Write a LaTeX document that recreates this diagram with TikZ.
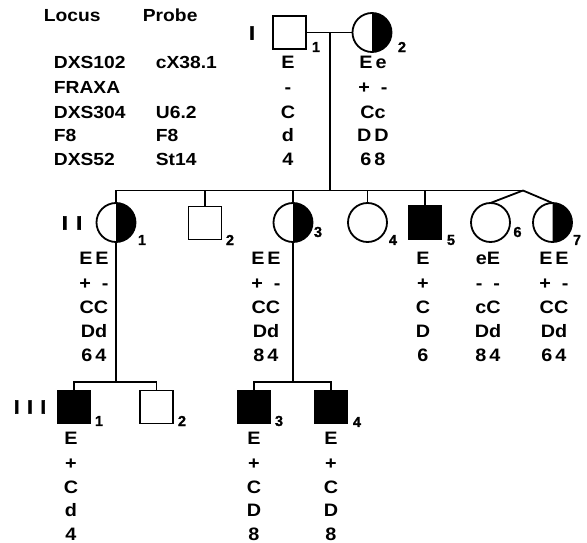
\documentclass[tikz,border=0pt]{standalone}
\usepackage{fontspec}
\setmainfont{Liberation Sans}[FakeStretch=1.1]
\newfontfamily\genfont{Liberation Sans Bold}[FakeBold=3]
\newfontfamily\numfont{Liberation Sans Bold}[FakeBold=1]
\begin{document}
\begin{tikzpicture}[x=1pt,y=-1pt,line width=1.8pt,
  male/.style={draw,rectangle,minimum size=33pt,inner sep=0pt,outer sep=0pt,fill=white},
  female/.style={draw,circle,minimum size=39pt,inner sep=0pt,outer sep=0pt,fill=white},
  aff/.style={fill=black},
  gt/.style={font=\fontsize{18}{18}\bfseries\selectfont,inner sep=0pt,anchor=base},
  hd/.style={font=\fontsize{17.5}{17.5}\bfseries\selectfont,inner sep=0pt,anchor=base west},
  num/.style={font=\fontsize{14.5}{14.5}\numfont,inner sep=0pt},
  gen/.style={font=\fontsize{19}{19}\genfont,inner sep=0pt}]
\useasboundingbox (0,0) rectangle (587,543);
% ---------- table ----------
\node[hd] (hl) at (43,22) {Locus};
\node[hd] (hp) at (142,22) {Probe};
\node[hd] (l1) at (53,69) {DXS102};
\node[hd] (l2) at (53,94) {FRAXA};
\node[hd] (l3) at (53,119) {DXS304};
\node[hd] (l4) at (53,142) {F8};
\node[hd] (l5) at (53,165) {DXS52};
\node[hd] (p1) at (155,69) {cX38.1};
\node[hd] (p3) at (155,119) {U6.2};
\node[hd] (p4) at (155,142) {F8};
\node[hd] (p5) at (155,165) {St14};
% ---------- generation labels ----------
\node[gen] (g1) at (252,33) {I};
\node[gen] (g2) at (72,223) {I\hspace{9pt}I};
\node[gen] (g3) at (30,407) {I\hspace{8pt}I\hspace{8pt}I};
% ---------- generation I ----------
\node[male] (I1) at (289.5,32.5) {};
\node[female] (I2) at (372,32.5) {};
\fill (I2.north) arc[start angle=-90,end angle=90,radius=19.5] -- cycle;
\node[num] (nI1) at (316,47) {1};
\node[num] (nI2) at (402,47) {2};
\coordinate (m) at (330,32.5);
\coordinate (tw) at (523,190.5);
\draw (I1.east) -- (I2.west);
\draw (m) -- (m |- tw);
% ---------- generation II ----------
\node[female] (II1) at (116,222.5) {};
\fill (II1.north) arc[start angle=-90,end angle=90,radius=19.5] -- cycle;
\node[male] (II2) at (205,223) {};
\node[female] (II3) at (293,222.5) {};
\fill (II3.north) arc[start angle=-90,end angle=90,radius=19.5] -- cycle;
\node[female] (II4) at (367.5,222.5) {};
\node[male,aff] (II5) at (425,222.5) {};
\node[female] (II6) at (490.5,222.5) {};
\node[female] (II7) at (552.5,222.5) {};
\fill (II7.north) arc[start angle=-90,end angle=90,radius=19.5] -- cycle;
\draw (II1.north) |- (tw);
\draw (II2.north) -- (II2.north |- tw);
\draw (II3.north) -- (II3.north |- tw);
\draw (II4.north) -- (II4.north |- tw);
\draw (II5.north) -- (II5.north |- tw);
\draw (tw) -- (II6.north);
\draw (tw) -- (II7.north);
\node[num] (nII1) at (142,240) {1};
\node[num] (nII2) at (230,240) {2};
\node[num] (nII3) at (318,232) {3};
\node[num] (nII4) at (393,240) {4};
\node[num] (nII5) at (451,240) {5};
\node[num] (nII6) at (517.5,232) {6};
\node[num] (nII7) at (577,240) {7};
% ---------- generation III ----------
\coordinate (s3a) at (116,381.7);
\coordinate (s3b) at (293,381.7);
\node[male,aff] (III1) at (74,407) {};
\node[male] (III2) at (156.5,407) {};
\node[male,aff] (III3) at (254,407) {};
\node[male,aff] (III4) at (331,407) {};
\draw (II1.south) -- (s3a);
\draw (II3.south) -- (s3b);
\draw (III1.north) |- (s3a) -| (III2.north);
\draw (III3.north) |- (s3b) -| (III4.north);
\node[num] (nIII1) at (99,421) {1};
\node[num] (nIII2) at (182,421) {2};
\node[num] (nIII3) at (279,421) {3};
\node[num] (nIII4) at (357,422) {4};
% ---------- genotypes ----------
\foreach \x/\a/\b/\c/\d/\e/\n in {
  288/E/-/C/d/4/tI1,
  373/E\,e/+\ \ -/Cc/D\,D/6\,8/tI2}{
  \node[gt] (\n a) at (\x,69) {\a};
  \node[gt] (\n b) at (\x,94) {\b};
  \node[gt] (\n c) at (\x,119) {\c};
  \node[gt] (\n d) at (\x,142) {\d};
  \node[gt] (\n e) at (\x,165) {\e};}
\foreach \x/\a/\b/\c/\d/\e/\n in {
  94/E\,E/+\ \ -/CC/Dd/6\,4/tII1,
  266/E\,E/+\ \ -/CC/Dd/8\,4/tII3,
  423/E/+/C/D/6/tII5,
  488/eE/-\ \ -/cC/Dd/8\,4/tII6,
  554/E\,E/+\ \ -/CC/Dd/6\,4/tII7}{
  \node[gt] (\n a) at (\x,264) {\a};
  \node[gt] (\n b) at (\x,289) {\b};
  \node[gt] (\n c) at (\x,313) {\c};
  \node[gt] (\n d) at (\x,337) {\d};
  \node[gt] (\n e) at (\x,361) {\e};}
\foreach \x/\a/\b/\c/\d/\e/\n in {
  71/E/+/C/d/4/tIII1,
  254/E/+/C/D/8/tIII3,
  331/E/+/C/D/8/tIII4}{
  \node[gt] (\n a) at (\x,444) {\a};
  \node[gt] (\n b) at (\x,469) {\b};
  \node[gt] (\n c) at (\x,493) {\c};
  \node[gt] (\n d) at (\x,516) {\d};
  \node[gt] (\n e) at (\x,540) {\e};}
\end{tikzpicture}
\end{document}
